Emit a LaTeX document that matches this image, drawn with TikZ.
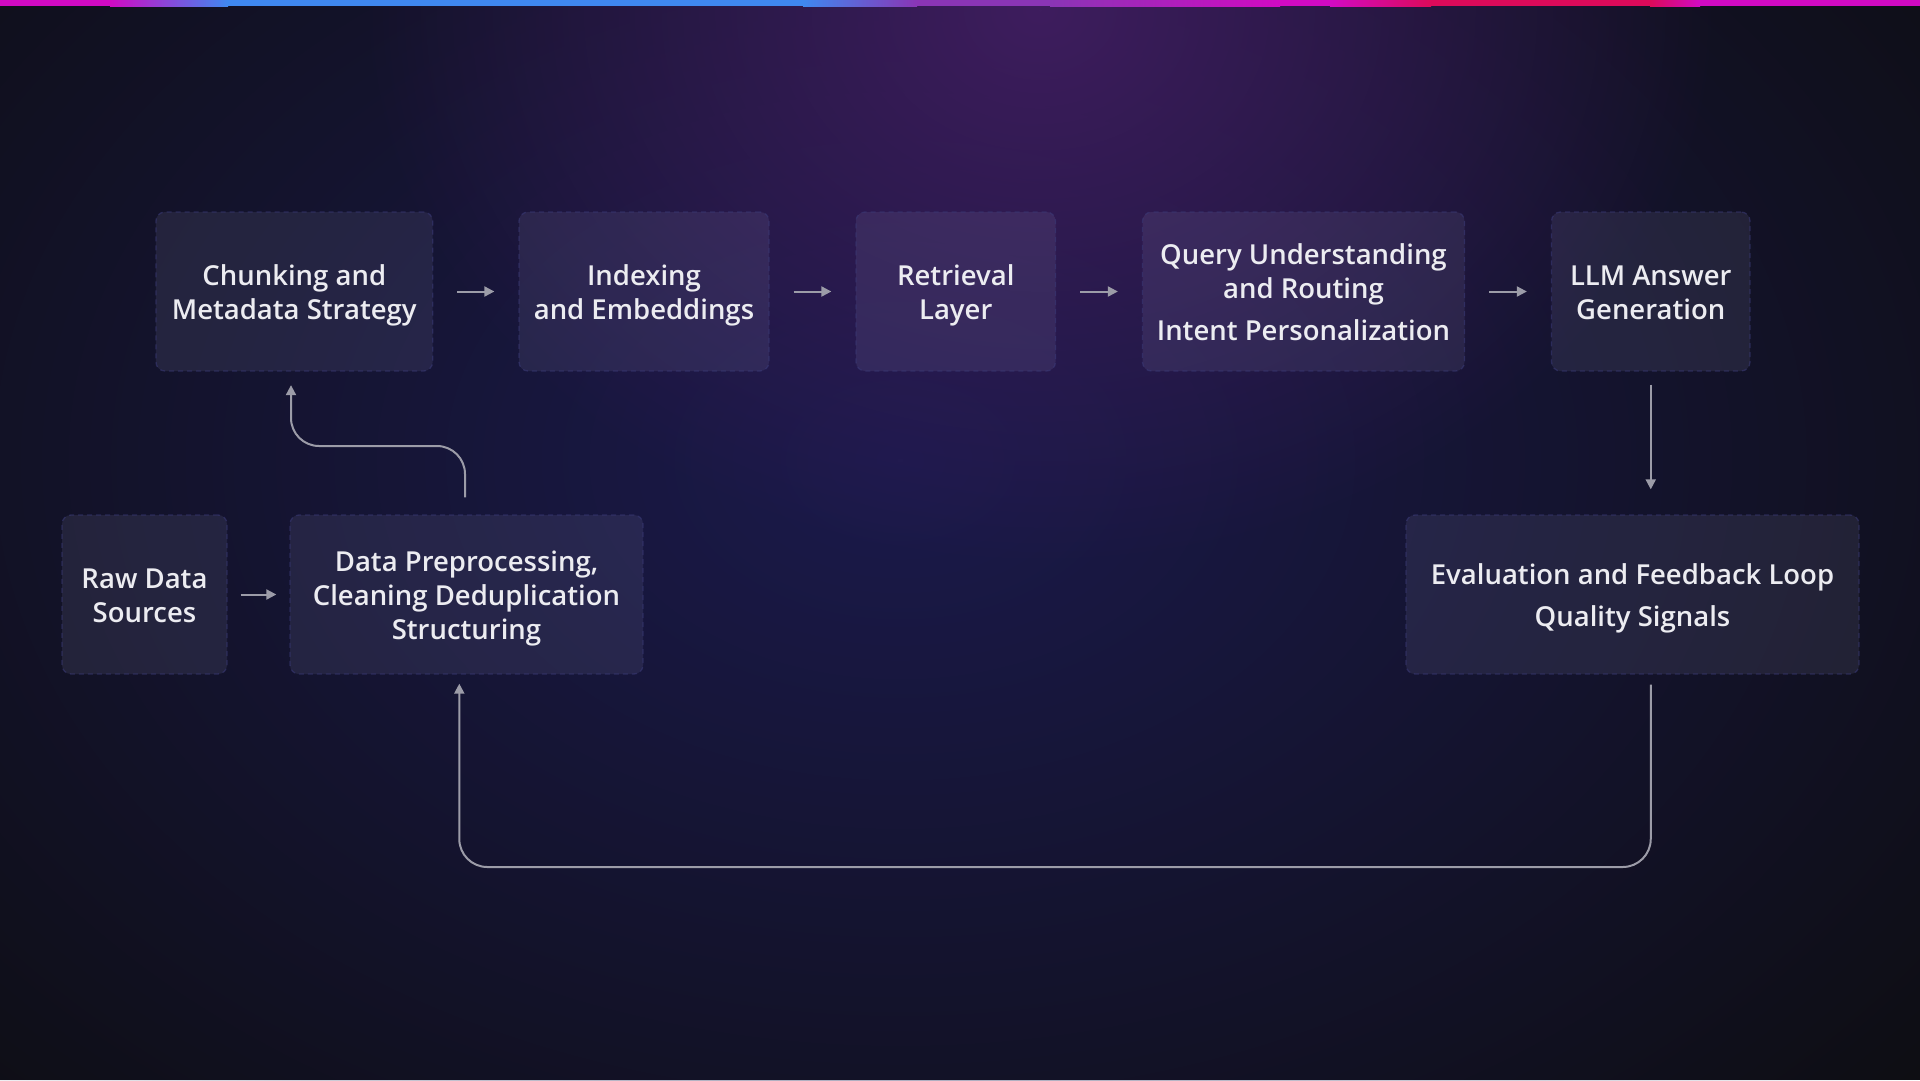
\documentclass[tikz,border=0pt]{standalone}
\usepackage{fontspec}
\newcommand\labsize{27.5}
\IfFontExistsTF{Open Sans Semibold}{\setmainfont{Open Sans Semibold}}{%
 \IfFontExistsTF{Noto Sans Medium}{\setmainfont{Noto Sans Medium}}{%
  \IfFontExistsTF{Noto Sans SemiBold}{\setmainfont{Noto Sans SemiBold}}{%
   \IfFontExistsTF{Lato Semibold}{\setmainfont{Lato Semibold}\renewcommand\labsize{29}}{%
    \setmainfont{Fira Sans Medium}\renewcommand\labsize{29.5}}}}}
\newcommand\ls{\rule[-6pt]{0pt}{34pt}}
\newcommand\labfont{\fontsize{\labsize}{34}\selectfont\lineskiplimit=-100pt\relax\lineskip=0pt\relax}
\usetikzlibrary{arrows.meta,fadings}
\definecolor{bgc}{HTML}{0E0E13}
\definecolor{glowA}{HTML}{1B1A4C}
\definecolor{glowB}{HTML}{3E1D5E}
\definecolor{boxc}{HTML}{D0D0FF}
\definecolor{bordc}{HTML}{3A3A78}
\definecolor{txtc}{HTML}{ECECF1}
\definecolor{arrc}{HTML}{9C9CA8}
\definecolor{barM}{HTML}{D10AC3}
\definecolor{barB}{HTML}{3F88F0}
\definecolor{barP}{HTML}{8A35B5}
\definecolor{barR}{HTML}{DC0A5A}
\tikzfading[name=glowfade, inner color=transparent!0, outer color=transparent!100]
\tikzset{
  box/.style={draw=bordc, draw opacity=0.55, dash pattern=on 5pt off 4pt, line width=1.3pt,
    rounded corners=9pt, fill=boxc, fill opacity=0.09, text opacity=1, text=txtc,
    align=center, inner sep=0pt, minimum height=159pt, font=\labfont},
  arr/.style={draw=arrc, line width=2pt, -{Triangle[length=10pt,width=10pt]}},
}
\begin{document}
\begin{tikzpicture}[x=1pt,y=-1pt]
\fill[bgc] (0,0) rectangle (1920,1080);
\useasboundingbox (0,0) rectangle (1920,1080);
% glows
\fill[glowA, path fading=glowfade] (900,460) ellipse [x radius=1350, y radius=950];
\fill[glowB, path fading=glowfade] (1040,10) ellipse [x radius=680, y radius=560];
% top bar
\fill[barM] (0,0) rectangle (110,6);
\shade[left color=barM, right color=barB] (110,0) rectangle (228,6);
\fill[barB] (228,0) rectangle (803,6);
\shade[left color=barB, right color=barP] (803,0) rectangle (917,6);
\fill[barP] (917,0) rectangle (1050,6);
\shade[left color=barP, right color=barM] (1050,0) rectangle (1280,6);
\fill[barM] (1280,0) rectangle (1330,6);
\shade[left color=barM, right color=barR] (1330,0) rectangle (1431,6);
\fill[barR] (1431,0) rectangle (1650,6);
\shade[left color=barR, right color=barM] (1650,0) rectangle (1700,6);
\fill[barM] (1700,0) rectangle (1920,6);
% nodes
\node[box, minimum width=276.7pt] (chunk) at (294.3,291.5) {\ls Chunking and\\\ls Metadata Strategy};
\node[box, minimum width=250pt] (index) at (644,291.5) {\ls Indexing\\\ls and Embeddings};
\node[box, minimum width=199.5pt] (retr) at (955.75,291.5) {\ls Retrieval\\\ls Layer};
\node[box, minimum width=322pt] (query) at (1303.5,291.5) {\ls Query Understanding\\\ls and Routing\\[8pt]\ls Intent Personalization};
\node[box, minimum width=198.5pt] (llm) at (1650.75,291.5) {\ls LLM Answer\\\ls Generation};
\node[box, minimum width=165pt] (raw) at (144.5,594.5) {\ls Raw Data\\\ls Sources};
\node[box, minimum width=353pt] (pre) at (466.5,594.5) {\ls Data Preprocessing,\\\ls Cleaning Deduplication\\\ls Structuring};
\node[box, minimum width=453pt] (eval) at (1632.5,594.5) {\ls Evaluation and Feedback Loop\\[8pt]\ls Quality Signals};
% connectors
\draw[arr] ([xshift=24pt]chunk.east) -- ([xshift=-24pt]index.west);
\draw[arr] ([xshift=24pt]index.east) -- ([xshift=-24pt]retr.west);
\draw[arr] ([xshift=24pt]retr.east) -- ([xshift=-24pt]query.west);
\draw[arr] ([xshift=24pt]query.east) -- ([xshift=-24pt]llm.west);
\draw[arr] ([xshift=13pt]raw.east) -- ([xshift=-13pt]pre.west);
\draw[arr] ([yshift=-13pt]llm.south) -- ([yshift=25pt]llm.south |- eval.north);
\draw[arr, rounded corners=28pt] ([xshift=-1.5pt,yshift=17pt]pre.north) -- ([xshift=-1.5pt]pre.north |- 0,446) -| ([xshift=-3.3pt,yshift=-13.5pt]chunk.south);
\draw[arr, rounded corners=28pt] ([yshift=-10pt]llm.south |- eval.south) -- (llm.south |- 0,867) -| ([xshift=-7.2pt,yshift=-9pt]pre.south);
\end{tikzpicture}
\end{document}
